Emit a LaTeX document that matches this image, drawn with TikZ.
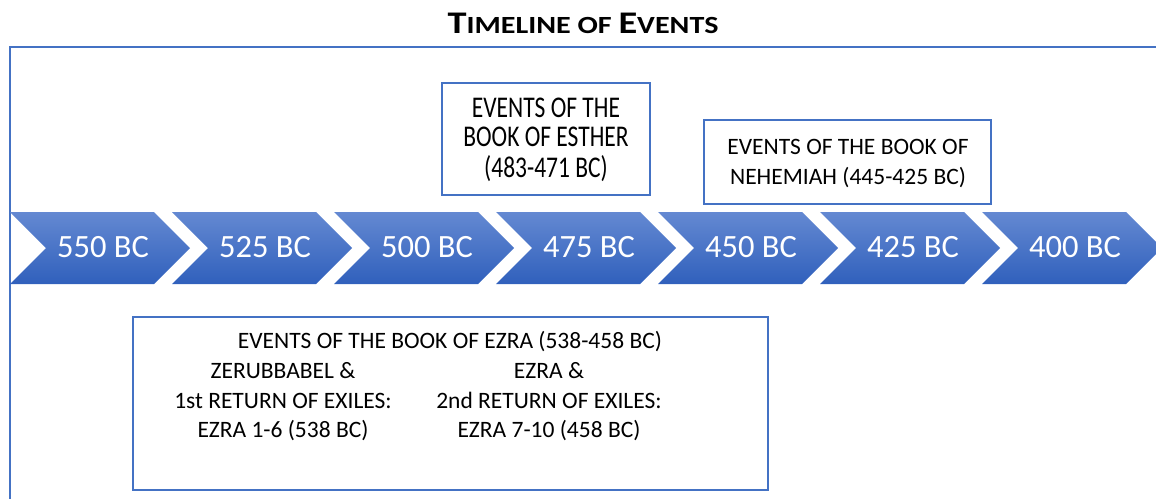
\documentclass[tikz,border=0pt]{standalone}
\usepackage{fontspec}
\usepackage{graphicx}
\setmainfont{Carlito}
\definecolor{frameblue}{RGB}{68,114,196}
\definecolor{chevtop}{RGB}{100,137,210}
\definecolor{chevbot}{RGB}{48,96,188}
\tikzset{
  chev/.style={top color=chevtop, bottom color=chevbot, draw=none},
  chevtext/.style={text=white, font=\fontsize{32.5}{32.5}\selectfont, inner sep=0pt},
  eventbox/.style={draw=frameblue, line width=1.3pt, fill=white},
  boxtext/.style={align=center, inner sep=0pt, font=\fontsize{23.5}{29.5}\selectfont},
  frame/.style={draw=frameblue, line width=1.5pt}
}
\begin{document}
\begin{tikzpicture}[x=1pt,y=-1pt]
\useasboundingbox (0,0) rectangle (1156,498);
\clip (0,0) rectangle (1156,498);
% title
\node[inner sep=0pt, font=\bfseries] (title) at (583,23.5)
  {\scalebox{1.28}[1.05]{{\fontsize{30}{30}\selectfont T}{\fontsize{23.5}{23.5}\selectfont IMELINE OF }{\fontsize{30}{30}\selectfont E}{\fontsize{23.5}{23.5}\selectfont VENTS}}};
% outer frame
\coordinate (ftl) at (10,47);
\coordinate (ftr) at (1160,47);
\coordinate (fbl) at (10,502);
\draw[frame] (ftr) -- (ftl) -- (fbl);
% chevrons
\foreach \i/\lab in {0/550,1/525,2/500,3/475,4/450,5/425,6/400}{
  \pgfmathsetmacro{\xa}{10+162*\i}
  \shade[chev] (\xa,212) -- ++(144,0) -- ++(36,36) -- ++(-36,36) -- ++(-144,0) -- ++(36,-36) -- cycle;
  \node[chevtext] (c\i) at ({103+162*\i},247) {\lab\ BC};
}
% Esther box
\node[eventbox, minimum width=208pt, minimum height=112pt, inner sep=0pt] (esther) at (546,139) {};
\node[inner sep=0pt] (esthertext) at (546,142)
  {\scalebox{1}[1.28]{\fontsize{23.5}{22.7}\selectfont\begin{tabular}{@{}c@{}}EVENTS OF THE\\BOOK OF ESTHER\\(483-471 BC)\end{tabular}}};
% Nehemiah box
\node[eventbox, minimum width=287pt, minimum height=84pt, inner sep=0pt] (neh) at (847.5,162) {};
\node[boxtext] (nehtext) at (848,163.5) {EVENTS OF THE BOOK OF\\NEHEMIAH (445-425 BC)};
% Ezra box
\node[eventbox, minimum width=635pt, minimum height=173pt, inner sep=0pt] (ezra) at (450.5,403.5) {};
\node[boxtext, anchor=base] (ezra1) at (450,348.5) {EVENTS OF THE BOOK OF EZRA (538-458 BC)};
\node[boxtext, anchor=base] (ezraL) at (283,437.5) {ZERUBBABEL \&\\1st RETURN OF EXILES:\\EZRA 1-6 (538 BC)};
\node[boxtext, anchor=base] (ezraR) at (549,437.5) {EZRA \&\\2nd RETURN OF EXILES:\\EZRA 7-10 (458 BC)};
\end{tikzpicture}
\end{document}
